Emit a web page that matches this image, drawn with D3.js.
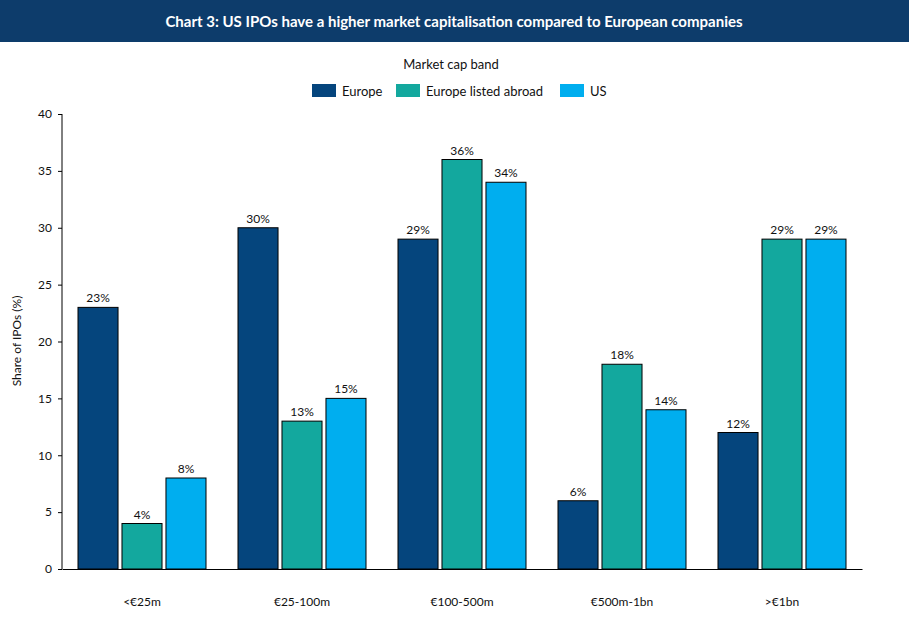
<!DOCTYPE html>
<html><head><meta charset="utf-8">
<script src="https://cdn.jsdelivr.net/npm/d3@7"></script>
<style>body{margin:0;background:#fff}svg{font-family:Lato,"Open Sans",sans-serif}</style>
</head><body>
<svg id="c" width="909" height="641"></svg>
<script>
const categories=["<€25m","€25-100m","€100-500m","€500m-1bn",">€1bn"];
const seriesNames=["Europe","Europe listed abroad","US"];
const europe=[23,30,29,6,12];
const abroad=[4,13,36,18,29];
const us=[8,15,34,14,29];
const yTicks=[0,5,10,15,20,25,30,35,40];
const colors=["#05457d","#13a89e","#00aeef"];
const series=[europe,abroad,us];

const svg=d3.select("#c");
svg.append("rect").attr("x",0).attr("y",0).attr("width",909).attr("height",42).attr("fill","#0d3c6b");
svg.append("text").attr("x",454).attr("y",27).attr("text-anchor","middle").attr("fill","#fff")
 .attr("font-size",15).attr("font-weight","bold").text("Chart 3: US IPOs have a higher market capitalisation compared to European companies");

const x=d3.scaleBand().domain(categories).range([62,862]);
const xi=d3.scaleBand().domain(seriesNames).range([0,128]).paddingInner(0.09);
const y=d3.scaleLinear().domain([0,40]).range([569,114]);

series.forEach((s,si)=>{
  const g=svg.append("g");
  g.selectAll("rect").data(s).join("rect")
   .attr("x",(d,i)=>x(categories[i])+(x.bandwidth()-128)/2+xi(seriesNames[si]))
   .attr("y",d=>y(d)).attr("width",xi.bandwidth()).attr("height",d=>y(0)-y(d))
   .attr("fill",colors[si]).attr("stroke","#000").attr("stroke-width",1);
  g.selectAll("text").data(s).join("text")
   .attr("x",(d,i)=>x(categories[i])+(x.bandwidth()-128)/2+xi(seriesNames[si])+xi.bandwidth()/2)
   .attr("y",d=>y(d)-5).attr("text-anchor","middle").attr("font-size",12).attr("fill","#111")
   .text(d=>d+"%");
});

const ya=svg.append("g").attr("transform","translate(62,0)")
 .call(d3.axisLeft(y).tickValues(yTicks).tickSize(4).tickPadding(6));
ya.selectAll("text").attr("font-size",12).attr("font-family","Lato,'Open Sans',sans-serif").attr("fill","#111");
ya.select(".domain").attr("d","M0,114V569");
const xa=svg.append("g").attr("transform","translate(0,569)")
 .call(d3.axisBottom(x).tickSize(0).tickPadding(28));
xa.selectAll("text").attr("font-size",12).attr("font-family","Lato,'Open Sans',sans-serif").attr("fill","#111");

svg.append("text").attr("transform","translate(21,341) rotate(-90)").attr("text-anchor","middle")
 .attr("font-size",12).attr("fill","#111").text("Share of IPOs (%)");

svg.append("text").attr("x",451).attr("y",69).attr("text-anchor","middle").attr("font-size",13).attr("fill","#111").text("Market cap band");
const lx=[312,396,560];
seriesNames.forEach((n,i)=>{
  svg.append("rect").attr("x",lx[i]).attr("y",84).attr("width",24).attr("height",13).attr("fill",colors[i]);
  svg.append("text").attr("x",lx[i]+30).attr("y",96).attr("font-size",13).attr("fill","#111").text(n);
});
</script></body></html>
